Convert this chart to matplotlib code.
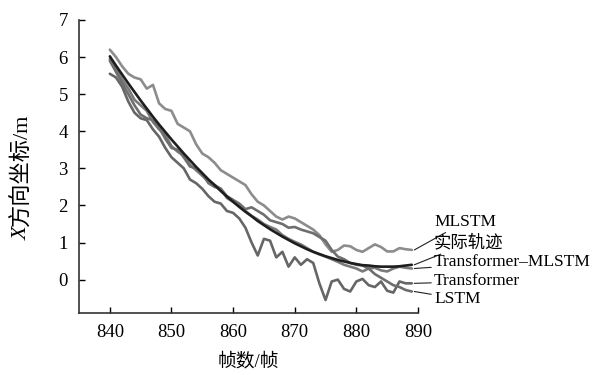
import matplotlib
matplotlib.use("Agg")
import matplotlib.pyplot as plt

plt.rcParams['font.family'] = ['Liberation Serif', 'Noto Sans CJK SC']

frames = list(range(840, 890))

actual = [6.02, 5.77, 5.53, 5.29, 5.06, 4.83, 4.61, 4.39, 4.18, 3.98,
          3.78, 3.59, 3.40, 3.22, 3.04, 2.87, 2.70, 2.55, 2.39, 2.24,
          2.10, 1.96, 1.83, 1.71, 1.58, 1.47, 1.36, 1.26, 1.16, 1.07,
          0.98, 0.90, 0.82, 0.75, 0.69, 0.63, 0.58, 0.53, 0.49, 0.45,
          0.42, 0.39, 0.38, 0.36, 0.35, 0.35, 0.35, 0.36, 0.38, 0.40]

mlstm = [6.20, 6.00, 5.75, 5.55, 5.45, 5.40, 5.15, 5.25, 4.75, 4.60,
         4.55, 4.20, 4.10, 4.00, 3.65, 3.40, 3.30, 3.15, 2.95, 2.85,
         2.75, 2.65, 2.55, 2.30, 2.10, 2.00, 1.85, 1.70, 1.62, 1.70,
         1.65, 1.55, 1.45, 1.35, 1.20, 0.95, 0.75, 0.80, 0.92, 0.90,
         0.80, 0.75, 0.85, 0.95, 0.88, 0.76, 0.76, 0.85, 0.82, 0.80]

trans_mlstm = [5.95, 5.70, 5.40, 5.15, 4.85, 4.70, 4.55, 4.25, 4.05, 3.90,
               3.60, 3.45, 3.35, 3.10, 2.95, 2.80, 2.65, 2.55, 2.45, 2.20,
               2.10, 2.00, 1.85, 1.72, 1.62, 1.50, 1.42, 1.35, 1.20, 1.10,
               1.02, 0.95, 0.85, 0.75, 0.68, 0.62, 0.55, 0.48, 0.40, 0.35,
               0.30, 0.22, 0.30, 0.32, 0.25, 0.22, 0.30, 0.35, 0.32, 0.30]

lstm = [5.90, 5.60, 5.30, 5.00, 4.70, 4.45, 4.35, 4.30, 4.10, 3.80,
        3.55, 3.50, 3.30, 3.05, 3.00, 2.85, 2.60, 2.50, 2.45, 2.25,
        2.15, 2.05, 1.90, 1.95, 1.85, 1.75, 1.60, 1.55, 1.50, 1.40,
        1.42, 1.35, 1.30, 1.25, 1.15, 1.05, 0.80, 0.62, 0.55, 0.45,
        0.40, 0.38, 0.30, 0.15, 0.05, -0.05, -0.15, -0.20, -0.28, -0.32]

transformer = [5.55, 5.45, 5.20, 4.80, 4.50, 4.35, 4.30, 4.05, 3.85, 3.55,
               3.30, 3.15, 3.00, 2.70, 2.60, 2.45, 2.25, 2.10, 2.05, 1.85,
               1.80, 1.65, 1.40, 1.00, 0.65, 1.10, 1.05, 0.60, 0.75, 0.35,
               0.60, 0.40, 0.55, 0.45, -0.10, -0.55, -0.05, 0.00, -0.25, -0.32,
               -0.05, 0.02, -0.15, -0.20, -0.05, -0.30, -0.35, -0.05, -0.10, -0.10]

labels = ['MLSTM', '实际轨迹', 'Transformer\u2013MLSTM', 'Transformer', 'LSTM']
label_y = [1.56, 0.99, 0.48, -0.05, -0.51]

fig = plt.figure(figsize=(5.95, 3.75), dpi=100)
ax = fig.add_axes([0.1328, 0.1653, 0.5697, 0.7814])

series = [mlstm, actual, trans_mlstm, transformer, lstm]
colors = ['#8c8c8c', '#1e1e1e', '#7a7a7a', '#666666', '#6e6e6e']
zorders = [2, 5, 3, 3, 3]
for s, c, z in zip(series, colors, zorders):
    ax.plot(frames, s, color=c, lw=1.9, zorder=z,
            solid_capstyle='round', solid_joinstyle='round')

for s, lab, ly in zip(series, labels, label_y):
    ax.annotate(lab, xy=(frames[-1] + 0.4, s[-1]), xytext=(892.6, ly),
                textcoords='data', annotation_clip=False,
                fontsize=12.5, va='center', ha='left',
                arrowprops=dict(arrowstyle='-', color='#222222', lw=0.8,
                                shrinkA=0, shrinkB=0))

ax.set_xlim(835, 890)
ax.set_ylim(-0.9, 7)
ax.set_xticks([840, 850, 860, 870, 880, 890])
ax.set_yticks(range(0, 8))
ax.tick_params(direction='in', length=4, width=1, labelsize=13.5, pad=8)
for sp in ['top', 'right']:
    ax.spines[sp].set_visible(False)
for sp in ['left', 'bottom']:
    ax.spines[sp].set_linewidth(1.2)
    ax.spines[sp].set_color('#333333')

ax.set_xlabel('帧数/帧', fontsize=13.5, labelpad=8)

# y label: italic X followed by Chinese text, rotated
fig.text(22 / 595, 135 / 375, 'X', rotation=90, fontsize=16,
         fontstyle='italic', ha='center', va='bottom',
         family=['Liberation Serif'])
fig.text(22 / 595, 149 / 375, '方向坐标/m', rotation=90, fontsize=16,
         ha='center', va='bottom')

fig.savefig('out.png', dpi=100)
